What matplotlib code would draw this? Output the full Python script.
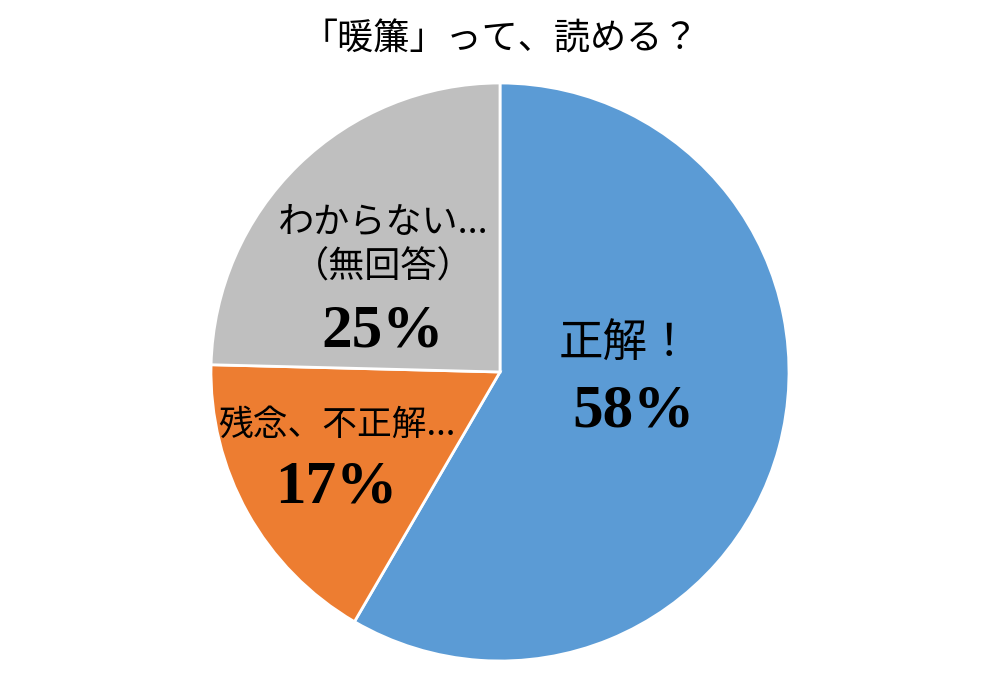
import matplotlib
matplotlib.use('Agg')
import matplotlib.pyplot as plt

title = '「暖簾」って、読める？'
categories = ['正解！', '残念、不正解...', 'わからない...\n（無回答）']
values = [58.4, 17.0, 24.6]
pct_labels = ['58%', '17%', '25%']
colors = ['#5B9BD5', '#ED7D31', '#BFBFBF']

jp_font = ['Noto Sans CJK JP', 'DejaVu Sans']
num_font = ['Liberation Serif', 'DejaVu Serif']


def main():
    fig = plt.figure(figsize=(10, 6.77), dpi=100)
    fig.text(0.5, 1 - 40 / 677, title, ha='center', va='center',
             fontsize=26, family=jp_font)

    ax = fig.add_axes([211 / 1000, 16 / 677, 578 / 1000, 578 / 677])
    ax.pie(values, colors=colors, startangle=90, counterclock=False,
           radius=1, wedgeprops=dict(edgecolor='white', linewidth=2))
    ax.set_xlim(-1, 1)
    ax.set_ylim(-1, 1)
    ax.set_aspect('equal')
    ax.axis('off')

    # label positions (data coords) for name and percentage of each wedge
    name_pos = [(0.433, 0.10), (-0.565, -0.185), (-0.405, 0.44)]
    name_size = [32, 25, 26]
    pct_pos = [(0.46, -0.138), (-0.565, -0.40), (-0.405, 0.14)]
    for name, pct, npos, ns, ppos in zip(categories, pct_labels, name_pos,
                                         name_size, pct_pos):
        ax.text(npos[0], npos[1], name, ha='center', va='center',
                fontsize=ns, family=jp_font, linespacing=1.3)
        ax.text(ppos[0], ppos[1], pct, ha='center', va='center',
                fontsize=44, fontweight='bold', family=num_font)

    fig.savefig('out.png', dpi=100)


if __name__ == '__main__':
    main()
